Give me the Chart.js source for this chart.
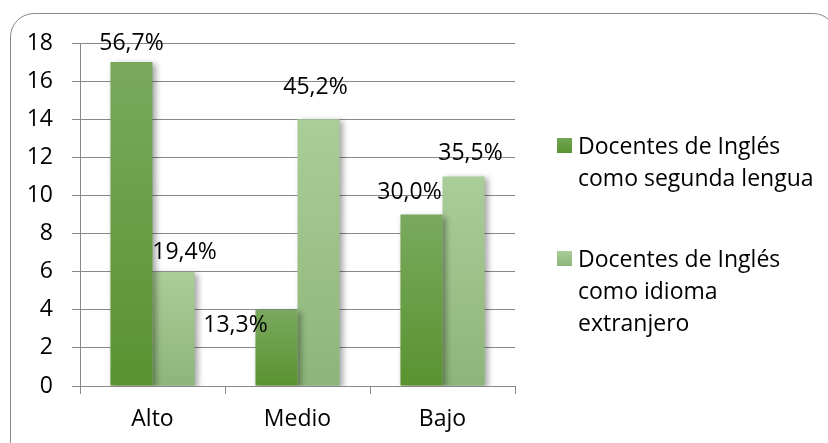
<!DOCTYPE html>
<html>
<head>
<meta charset="utf-8">
<script src="https://cdn.jsdelivr.net/npm/chart.js@4.4.0/dist/chart.umd.min.js"></script>
<style>
  body { margin: 0; background: #fff; }
  #wrap { position: relative; width: 828px; height: 443px; overflow: hidden; background: #fff; }
  #frame {
    position: absolute; left: 10px; top: 13px; width: 825px; height: 452px;
    border: 1.5px solid #8a8a8a; border-radius: 24px; background: #fff;
  }
  #chart { position: absolute; left: 0; top: 0; }
  .legend-item { position: absolute; left: 557px; font-family: "Open Sans", sans-serif;
    font-size: 23px; line-height: 32px; color: #000; }
  .legend-item .box { position: absolute; left: 0; width: 15px; height: 15px; }
  .legend-item .txt { position: absolute; left: 21px; white-space: nowrap; }
</style>
</head>
<body>
<div id="wrap">
  <div id="frame"></div>
  <canvas id="chart" width="828" height="443"></canvas>
  <div id="legend"></div>
</div>
<script>
// data
var categories = ["Alto", "Medio", "Bajo"];
var segundaLengua = [17, 4, 9];
var idiomaExtranjero = [6, 14, 11];
var segundaLabels = ["56,7%", "13,3%", "30,0%"];
var extranjeroLabels = ["19,4%", "45,2%", "35,5%"];
var seriesNames = [
    ["Docentes de Inglés", "como segunda lengua"],
    ["Docentes de Inglés", "como idioma", "extranjero"]
];
var yMax = 18;
var yStep = 2;

// where each percentage sits relative to the top-centre of its bar
var labelShift = [
    [[0, -19], [-41, 16], [-12, -22]],
    [[11, -19], [-3, -32], [7, -23]]
];

var FONT = "'Open Sans', sans-serif";
var GRID = "#888888";

// vertical gradient per bar, lighter at the top
function barFill(top, bottom) {
    return function (ctx) {
        var chart = ctx.chart;
        if (!chart.chartArea || ctx.raw === undefined) return bottom;
        var y = chart.scales.y;
        var y0 = y.getPixelForValue(ctx.raw);
        var y1 = y.getPixelForValue(0);
        var g = chart.ctx.createLinearGradient(0, y0, 0, y1);
        g.addColorStop(0, top);
        g.addColorStop(1, bottom);
        return g;
    };
}

var barShadow = {
    id: "barShadow",
    beforeDatasetsDraw: function (chart) {
        var c = chart.ctx;
        c.save();
        c.shadowColor = "rgba(0,0,0,0.35)";
        c.shadowBlur = 6;
        c.shadowOffsetX = 3;
        c.shadowOffsetY = 2;
    },
    afterDatasetsDraw: function (chart) {
        chart.ctx.restore();
    }
};

var pctLabels = {
    id: "pctLabels",
    afterDraw: function (chart) {
        var c = chart.ctx;
        var texts = [segundaLabels, extranjeroLabels];
        c.save();
        c.font = "23px " + FONT;
        c.fillStyle = "#000";
        c.textAlign = "center";
        c.textBaseline = "middle";
        chart.data.datasets.forEach(function (ds, i) {
            chart.getDatasetMeta(i).data.forEach(function (bar, j) {
                var s = labelShift[i][j];
                c.fillText(texts[i][j], bar.x + s[0], bar.y + s[1]);
            });
        });
        c.restore();
    }
};

new Chart(document.getElementById("chart").getContext("2d"), {
    type: "bar",
    data: {
        labels: categories,
        datasets: [
            {
                label: seriesNames[0].join(" "),
                data: segundaLengua,
                backgroundColor: barFill("#7aa95e", "#5a9230"),
                borderWidth: 0,
                categoryPercentage: 0.58,
                barPercentage: 1
            },
            {
                label: seriesNames[1].join(" "),
                data: idiomaExtranjero,
                backgroundColor: barFill("#aacd99", "#8db579"),
                borderWidth: 0,
                categoryPercentage: 0.58,
                barPercentage: 1
            }
        ]
    },
    options: {
        responsive: false,
        animation: false,
        layout: { padding: { top: 43, right: 313, left: 0, bottom: 0 } },
        plugins: {
            legend: { display: false },
            tooltip: { enabled: false }
        },
        scales: {
            x: {
                grid: { offset: true, drawOnChartArea: false, tickLength: 8, color: GRID },
                border: { color: GRID },
                ticks: { color: "#000", padding: 12, font: { family: FONT, size: 23 } },
                afterFit: function (scale) { scale.height = 57; }
            },
            y: {
                min: 0,
                max: yMax,
                grid: { color: GRID, tickLength: 8 },
                border: { color: GRID },
                ticks: { stepSize: yStep, color: "#000", padding: 19, font: { family: FONT, size: 23 } },
                afterFit: function (scale) { scale.width = 80; }
            }
        }
    },
    plugins: [barShadow, pctLabels]
});

// legend with wrapped names, like the original
var legendColors = ["linear-gradient(#72a554,#5a9230)", "linear-gradient(#aacd99,#8db579)"];
var legendTops = [129, 242];
var legend = document.getElementById("legend");
seriesNames.forEach(function (lines, i) {
    var item = document.createElement("div");
    item.className = "legend-item";
    item.style.top = legendTops[i] + "px";
    var box = document.createElement("div");
    box.className = "box";
    box.style.top = "9px";
    box.style.background = legendColors[i];
    var txt = document.createElement("div");
    txt.className = "txt";
    txt.innerHTML = lines.join("<br>");
    item.appendChild(box);
    item.appendChild(txt);
    legend.appendChild(item);
});
</script>
</body>
</html>
